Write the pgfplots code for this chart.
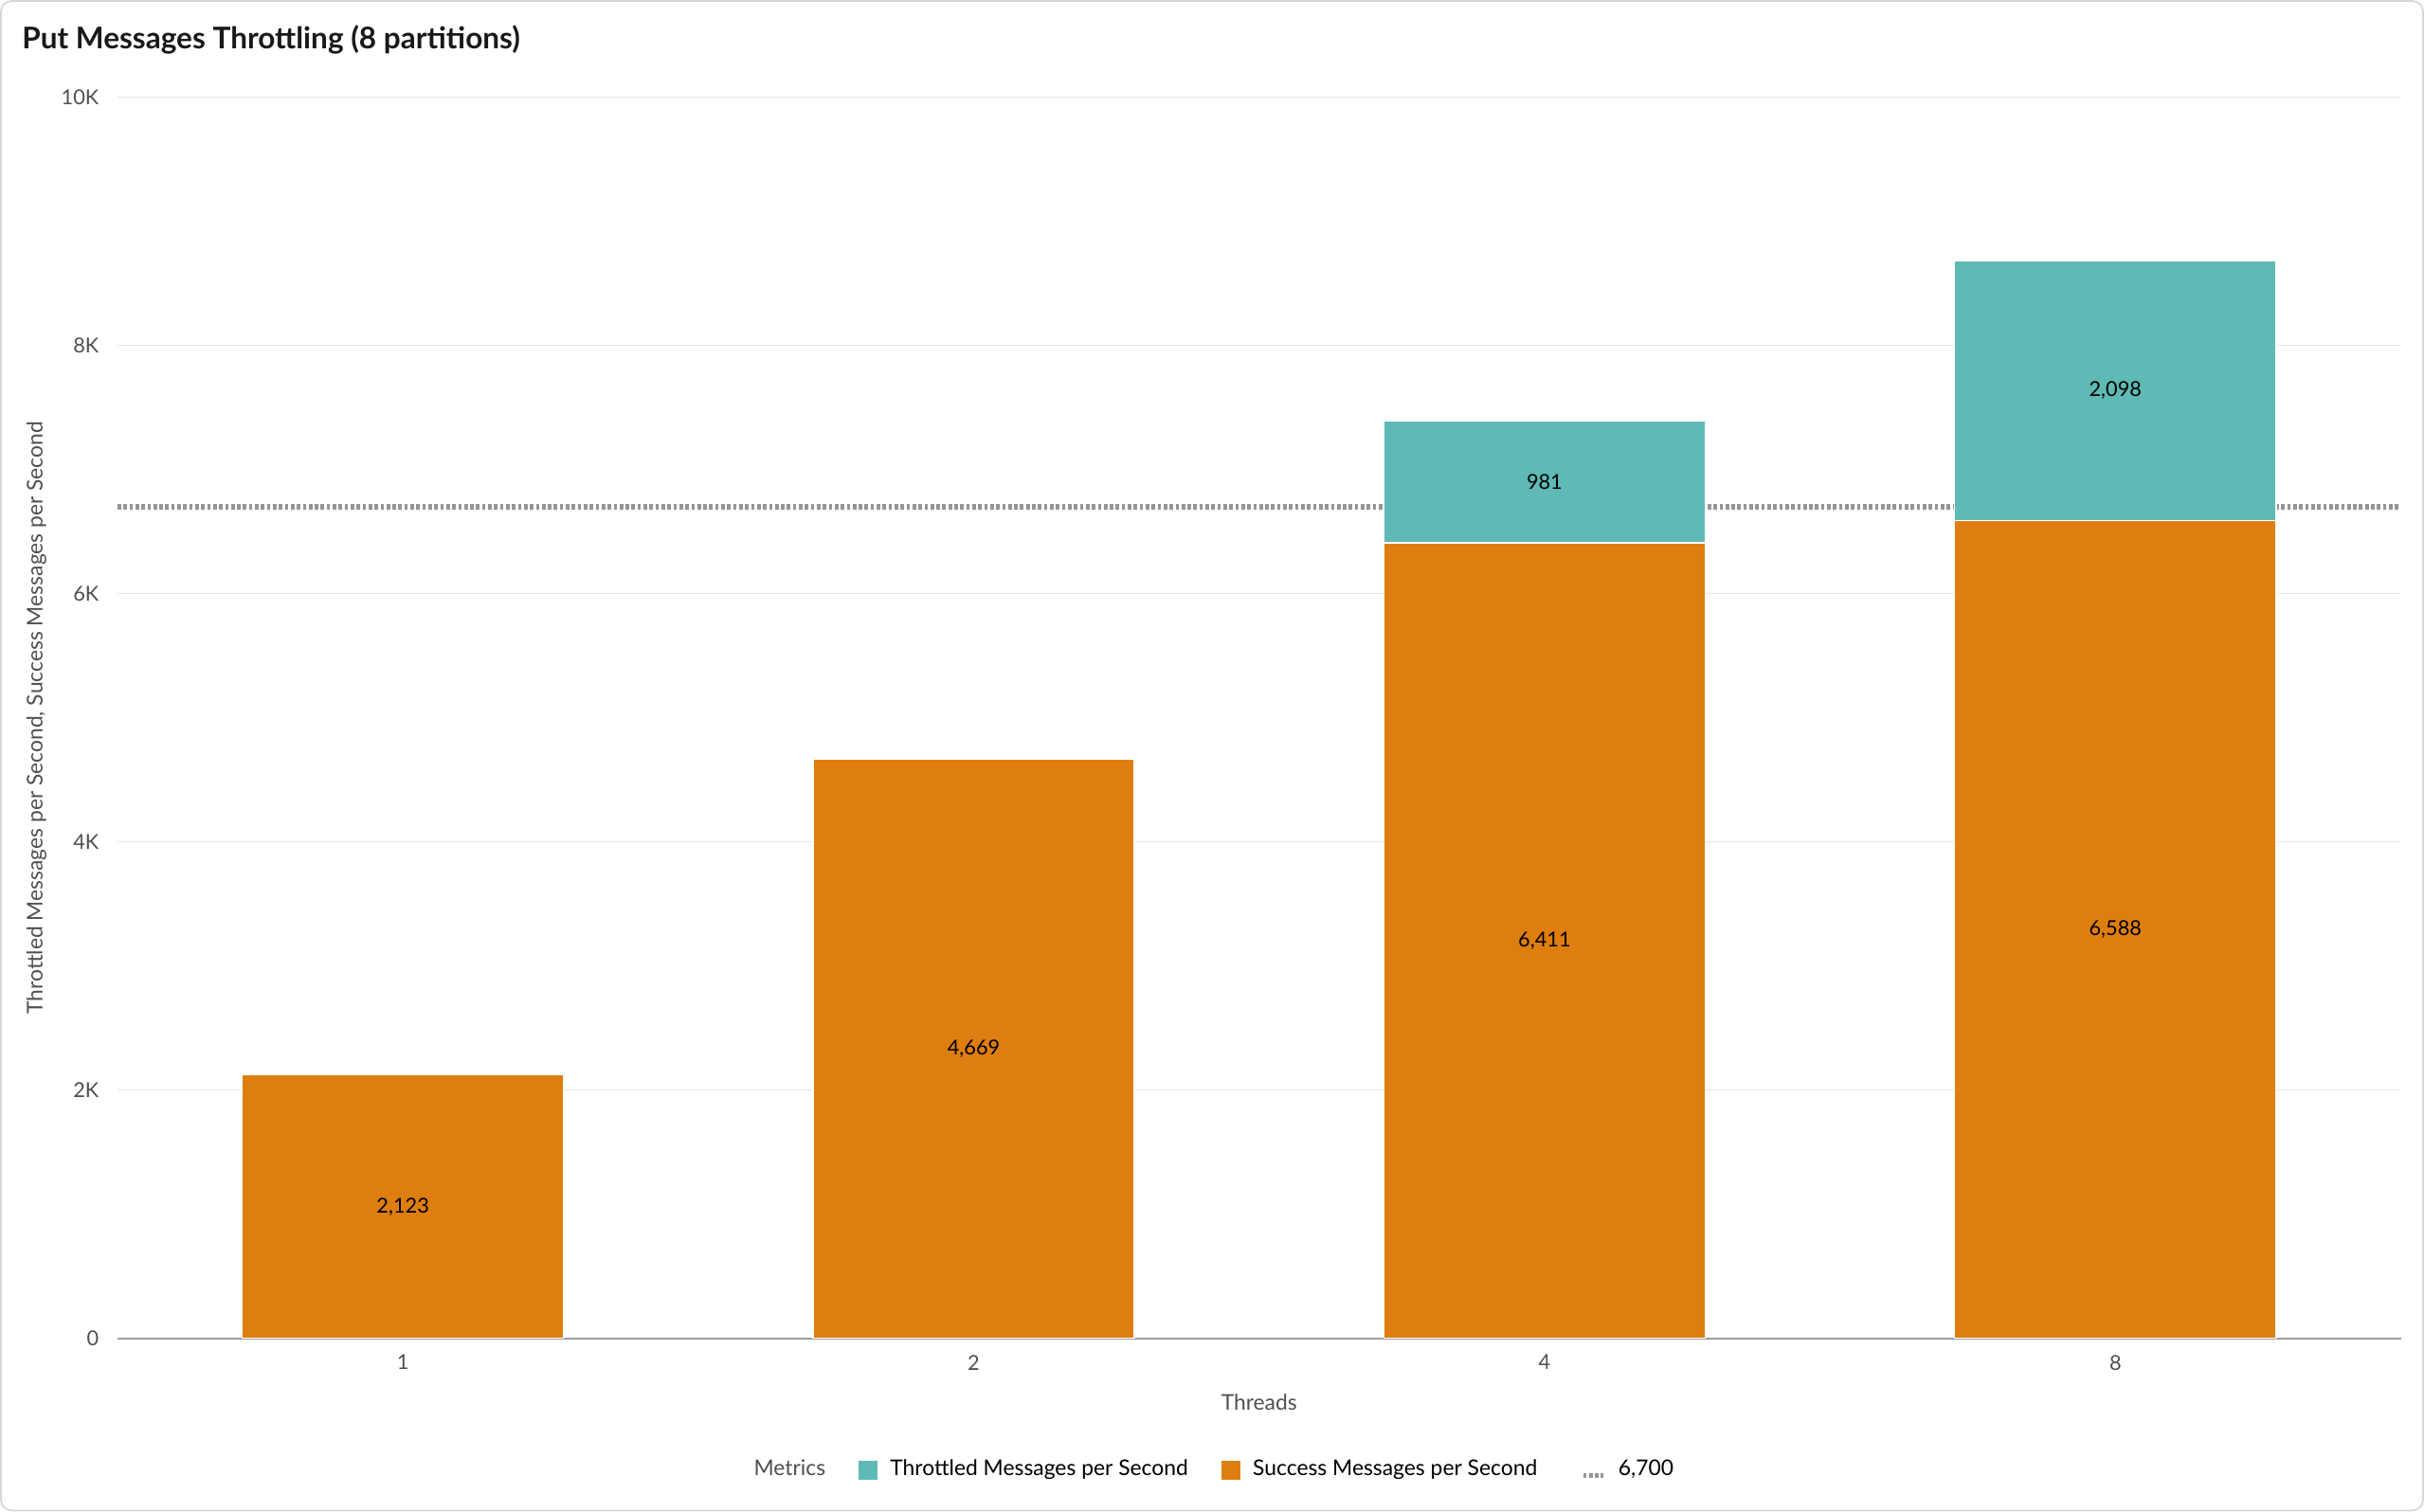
\documentclass[border=0pt]{standalone}
\usepackage{pgfplots}
\pgfplotsset{compat=1.18}
\usepackage{fontspec}
\setmainfont{Lato}

\definecolor{throttled}{HTML}{5FB9B4}
\definecolor{success}{HTML}{DF7E10}
\definecolor{gridc}{HTML}{E6E6E6}
\definecolor{axisc}{HTML}{9E9E9E}
\definecolor{refc}{HTML}{959595}
\definecolor{labc}{HTML}{4F4F4F}
\definecolor{framec}{HTML}{D6D6D6}

\pgfplotsset{
  chartbox/.style={
    at={(57pt,-649.5pt)}, anchor=south west,
    scale only axis, width=1107.75pt, height=602.25pt,
    xmin=-0.5, xmax=3.5, ymin=0, ymax=10000,
  },
  % stacked nodes near coords already sit mid-segment here
  mid labels/.style={
    nodes near coords={\pgfmathfloatifflags{\pgfplotspointmeta}{0}{}{\pgfmathprintnumber{\pgfplotspointmeta}}},
    every node near coord/.style={anchor=center, text=black, inner sep=0pt,
      font=\fontsize{10}{12}\selectfont},
  },
}

\begin{document}
\begin{tikzpicture}
  \useasboundingbox (0pt,0pt) rectangle (1176pt,-733.5pt);
  \draw[framec, line width=0.8pt, rounded corners=5pt] (0.5pt,-0.5pt) rectangle (1175.5pt,-733pt);
  \node[anchor=west, inner sep=0pt, font=\fontsize{14.5}{16}\selectfont\bfseries, text=black!90]
    at (10.5pt,-19.5pt) {Put Messages Throttling (8 partitions)};

  % grid, reference line, ticks, labels, legend
  \begin{axis}[
      chartbox,
      xtick={0,1,2,3}, xticklabels={1,2,4,8},
      ytick={0,2000,4000,6000,8000,10000},
      yticklabels={0,2K,4K,6K,8K,10K},
      scaled y ticks=false,
      axis x line*=bottom, axis y line*=left,
      x axis line style={draw=axisc, line width=0.7pt},
      y axis line style={draw=none},
      tick style={draw=none},
      ymajorgrids, major grid style={draw=gridc, line width=0.6pt},
      ticklabel style={font=\fontsize{10}{12}\selectfont, text=labc},
      yticklabel style={xshift=-5.5pt},
      xticklabel style={yshift=-4.5pt},
      xlabel={Threads},
      ylabel={Throttled Messages per Second, Success Messages per Second},
      label style={font=\fontsize{10.5}{12}\selectfont, text=labc},
      xlabel style={at={(axis description cs:0.5,-0.0511)}, anchor=center},
      ylabel style={at={(axis description cs:-0.0355,0.5)}, anchor=center},
      legend columns=4,
      legend style={at={(axis description cs:0.4783,-0.1055)}, anchor=center,
        draw=none, fill=none, font=\fontsize{10.5}{12}\selectfont,
        /tikz/every odd column/.append style={column sep=4pt},
        /tikz/every even column/.append style={column sep=14pt}},
    ]
    \addplot[forget plot, sharp plot, mark=none, refc, line width=2.4pt,
      dash pattern=on 1.7pt off 1.2pt]
      coordinates {(-0.5,6700) (3.5,6700)};

    \addlegendimage{empty legend}
    \addlegendentry{\textcolor{labc}{Metrics}}
    \addlegendimage{legend image code/.code={\fill[throttled] (0pt,-5pt) rectangle (9pt,4pt);}}
    \addlegendentry{Throttled Messages per Second}
    \addlegendimage{legend image code/.code={\fill[success] (0pt,-5pt) rectangle (9pt,4pt);}}
    \addlegendentry{Success Messages per Second}
    \addlegendimage{legend image code/.code={\path (0pt,0pt); \draw[refc, line width=2.4pt, dash pattern=on 1.7pt off 1.2pt] (6pt,-3pt) -- (16pt,-3pt);}}
    \addlegendentry{6,700}
  \end{axis}

  % stacked bars on top
  \begin{axis}[
      chartbox,
      ybar stacked, bar width=0.563,
      axis x line*=bottom, hide y axis,
      x axis line style={draw=axisc, line width=0.7pt},
      xtick=\empty, ytick=\empty,
      /pgf/number format/.cd, 1000 sep={,}, assume math mode=true,
    ]
    \addplot[fill=success, draw=white, line width=0.6pt, mid labels]
      coordinates {(0,2123) (1,4669) (2,6411) (3,6588)};
    \addplot[fill=throttled, draw=white, line width=0.6pt, mid labels]
      coordinates {(0,0) (1,0) (2,981) (3,2098)};
  \end{axis}
\end{tikzpicture}
\end{document}
